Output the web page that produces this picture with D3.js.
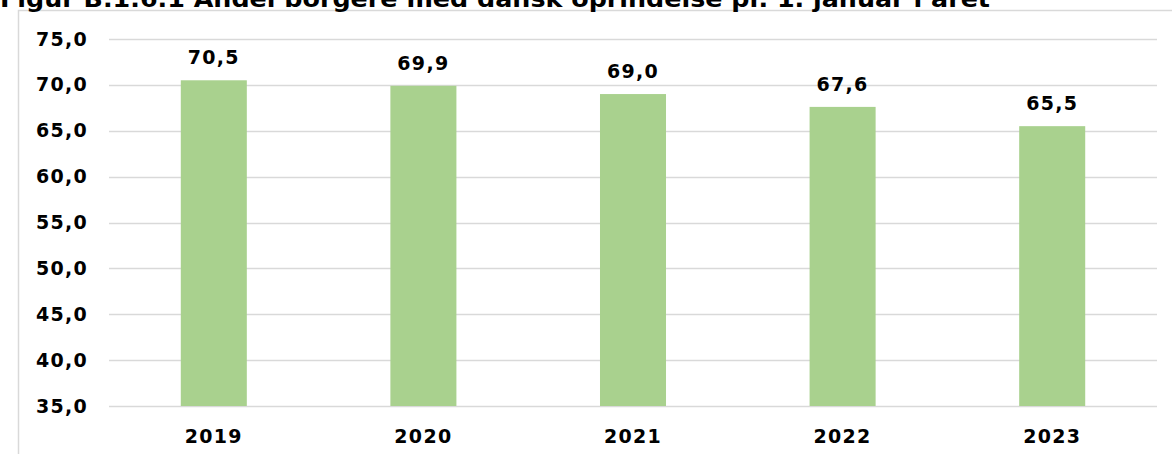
<!DOCTYPE html>
<html>
<head>
<meta charset="utf-8">
<script src="https://cdn.jsdelivr.net/npm/d3@7"></script>
<style>
  html, body { margin: 0; padding: 0; background: #fff; overflow: hidden; }
  svg { display: block; }
  text { font-family: Verdana, "DejaVu Sans", sans-serif; font-weight: bold; fill: #000; }
</style>
</head>
<body>
<svg id="chart" width="1172" height="454"></svg>
<script>
const title = "Figur B.1.6.1 Andel borgere med dansk oprindelse pr. 1. januar i året";
const years = ["2019", "2020", "2021", "2022", "2023"];
const shares = [70.5, 69.9, 69.0, 67.6, 65.5];
const yTicks = [35, 40, 45, 50, 55, 60, 65, 70, 75];

const W = 1172, H = 454;
const plot = { left: 109, right: 1157, top: 39, bottom: 406 };
const fmt = v => d3.format(".1f")(v).replace(".", ",");
const labelSize = 19, labelSpacing = 1.3;

const svg = d3.select("#chart");

// chart frame
svg.append("path")
  .attr("d", `M18.5,${H} V10.5 H${W}`)
  .attr("fill", "none")
  .attr("stroke", "#d9d9d9")
  .attr("stroke-width", 1.5);

// title
svg.append("text")
  .attr("x", 0)
  .attr("y", 7)
  .attr("font-size", 23)
  .attr("textLength", 990)
  .attr("lengthAdjust", "spacingAndGlyphs")
  .text(title);

const x = d3.scaleBand().domain(years).range([plot.left, plot.right]).paddingInner(0.685).paddingOuter(0.3425);
const y = d3.scaleLinear().domain([35, 75]).range([plot.bottom, plot.top]);

// gridlines
svg.append("g")
  .selectAll("line")
  .data(yTicks)
  .join("line")
  .attr("x1", plot.left)
  .attr("x2", plot.right)
  .attr("y1", d => Math.round(y(d)) + 0.5)
  .attr("y2", d => Math.round(y(d)) + 0.5)
  .attr("stroke", "#d9d9d9")
  .attr("stroke-width", 1.5);

// y axis labels
const yAxis = d3.axisLeft(y).tickValues(yTicks).tickFormat(fmt).tickSize(0).tickPadding(0);
const yg = svg.append("g").attr("transform", `translate(88,0)`).call(yAxis);
yg.select(".domain").remove();
yg.selectAll("text")
  .attr("font-size", labelSize)
  .attr("letter-spacing", labelSpacing)
  .attr("font-family", null)
  .attr("fill", "#000");

// bars
svg.append("g")
  .selectAll("rect")
  .data(years)
  .join("rect")
  .attr("x", d => x(d))
  .attr("width", x.bandwidth())
  .attr("y", (d, i) => y(shares[i]))
  .attr("height", (d, i) => y(35) - y(shares[i]))
  .attr("fill", "#a9d18e");

// value labels
svg.append("g")
  .selectAll("text")
  .data(years)
  .join("text")
  .attr("x", d => x(d) + x.bandwidth() / 2)
  .attr("y", (d, i) => y(shares[i]) - 16)
  .attr("text-anchor", "middle")
  .attr("font-size", labelSize)
  .attr("letter-spacing", labelSpacing)
  .text((d, i) => fmt(shares[i]));

// x axis labels
const xAxis = d3.axisBottom(x).tickSize(0).tickPadding(0);
const xg = svg.append("g").attr("transform", `translate(0,${plot.bottom})`).call(xAxis);
xg.select(".domain").remove();
xg.selectAll("text")
  .attr("y", 37)
  .attr("dy", 0)
  .attr("font-size", labelSize)
  .attr("letter-spacing", labelSpacing)
  .attr("font-family", null)
  .attr("fill", "#000");
</script>
</body>
</html>
